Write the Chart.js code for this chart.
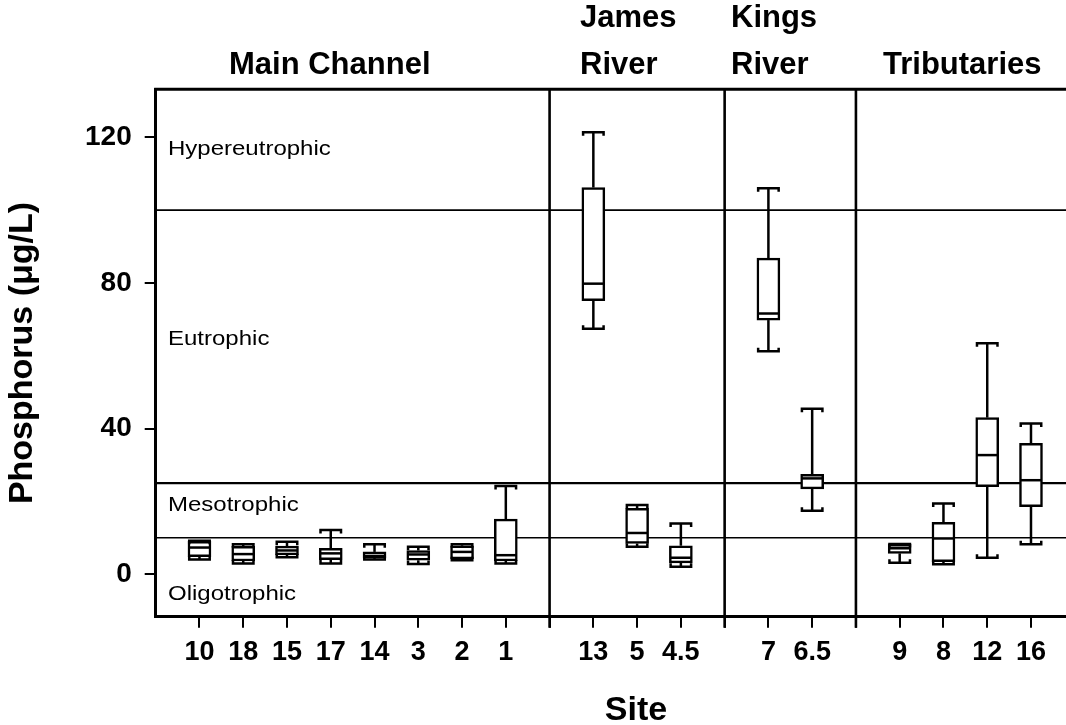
<!DOCTYPE html>
<html>
<head>
<meta charset="utf-8">
<script src="https://cdn.jsdelivr.net/npm/chart.js@4.4.1/dist/chart.umd.min.js"></script>
<style>
  html, body { margin: 0; padding: 0; background: #fff; overflow: hidden; }
  #wrap { width: 1066px; height: 725px; }
</style>
</head>
<body>
<div id="wrap"><canvas id="c" width="1066" height="725"></canvas></div>
<script>
// ---------------- data ----------------
const groupNames = [['Main Channel'], ['James', 'River'], ['Kings', 'River'], ['Tributaries']];
const groupSizes = [8, 3, 2, 4];
const siteLabels = ['10', '18', '15', '17', '14', '3', '2', '1', '13', '5', '4.5', '7', '6.5', '9', '8', '12', '16'];
const minVals    = [4.0, 2.9, 4.6, 2.9, 4.0, 2.8, 3.8, 2.9, 67.4, 7.5, 2.0, 61.2, 17.4, 3.1, 2.7, 4.5, 8.2];
const q1Vals     = [4.8, 3.6, 5.3, 4.0, 4.4, 3.8, 4.2, 3.6, 75.1, 8.4, 3.1, 69.8, 23.4, 5.7, 3.4, 24.0, 18.5];
const medianVals = [7.3, 5.5, 6.5, 5.7, 5.0, 5.4, 6.1, 5.2, 79.8, 11.3, 4.5, 71.6, 26.3, 7.1, 9.8, 32.7, 25.8];
const q3Vals     = [9.0, 7.6, 7.7, 7.1, 6.1, 6.5, 7.8, 15.1, 106.2, 18.1, 7.8, 86.8, 27.4, 8.2, 14.2, 43.0, 35.9];
const maxVals    = [9.2, 8.2, 8.9, 12.1, 8.2, 7.5, 8.2, 24.2, 121.4, 19.0, 13.9, 106.0, 45.4, 8.3, 19.4, 63.4, 41.4];
const yTicks = [0, 40, 80, 120];
const trophicBounds = [10, 25, 100];
const trophicNames = ['Oligotrophic', 'Mesotrophic', 'Eutrophic', 'Hypereutrophic'];

// ---------------- slot layout (sites + divider slots) ----------------
const siteSlots = [];
const dividerSlots = [];
const slotLabel = {};
(function () {
  let s = 0, k = 0;
  groupSizes.forEach((n, g) => {
    if (g > 0) { dividerSlots.push(s); s++; }
    for (let i = 0; i < n; i++) { siteSlots.push(s); slotLabel[s] = siteLabels[k]; k++; s++; }
  });
})();
const nSlots = siteSlots[siteSlots.length - 1] + 1;

const boxData = siteSlots.map((s, i) => ({ x: s, y: [q1Vals[i], q3Vals[i]] }));

const FONT = '"Liberation Sans", Arial, Helvetica, sans-serif';
const BOX_W = 23;
const LW = 2.5;

function seg(ctx, x1, y1, x2, y2) { ctx.beginPath(); ctx.moveTo(x1, y1); ctx.lineTo(x2, y2); ctx.stroke(); }

const decor = {
  id: 'decor',
  beforeDatasetsDraw(chart) {
    const { ctx, chartArea: a, scales: { x, y } } = chart;
    ctx.save();
    ctx.strokeStyle = '#000';
    const widths = [1.6, 2.4, 1.8];
    trophicBounds.forEach((v, i) => {
      ctx.lineWidth = widths[i];
      const py = y.getPixelForValue(v);
      seg(ctx, a.left, py, a.right, py);
    });
    ctx.lineWidth = 2.6;
    dividerSlots.forEach(s => {
      const px = x.getPixelForValue(s);
      seg(ctx, px, a.top, px, a.bottom + 11);
    });
    ctx.lineWidth = 3;
    seg(ctx, a.left - 1.5, a.top, a.right, a.top);
    ctx.restore();
  },
  afterDatasetsDraw(chart) {
    const { ctx, scales: { x, y } } = chart;
    ctx.save();
    ctx.strokeStyle = '#000';
    ctx.lineWidth = LW;
    ctx.lineCap = 'butt';
    ctx.lineJoin = 'miter';
    const hw = BOX_W / 2 - LW / 2;
    const hook = 3.5;
    siteSlots.forEach((s, i) => {
      const cx = x.getPixelForValue(s);
      const pMax = y.getPixelForValue(maxVals[i]);
      const pQ3 = y.getPixelForValue(q3Vals[i]);
      const pMed = y.getPixelForValue(medianVals[i]);
      const pQ1 = y.getPixelForValue(q1Vals[i]);
      const pMin = y.getPixelForValue(minVals[i]);
      // whiskers
      if (pQ3 - pMax > 0.5) seg(ctx, cx, pQ3, cx, pMax);
      if (pMin - pQ1 > 0.5) seg(ctx, cx, pQ1, cx, pMin);
      // caps with hooks towards the box
      ctx.beginPath();
      ctx.moveTo(cx - hw, pMax + hook); ctx.lineTo(cx - hw, pMax); ctx.lineTo(cx + hw, pMax); ctx.lineTo(cx + hw, pMax + hook);
      ctx.stroke();
      ctx.beginPath();
      ctx.moveTo(cx - hw, pMin - hook); ctx.lineTo(cx - hw, pMin); ctx.lineTo(cx + hw, pMin); ctx.lineTo(cx + hw, pMin - hook);
      ctx.stroke();
      // median
      seg(ctx, cx - BOX_W / 2 + 1, pMed, cx + BOX_W / 2 - 1, pMed);
    });
    ctx.restore();
  },
  afterDraw(chart) {
    const { ctx, scales: { y } } = chart;
    ctx.save();
    ctx.fillStyle = '#000';
    // trophic state labels (slightly wide sans)
    ctx.font = '20px ' + FONT;
    ctx.textAlign = 'left';
    ctx.textBaseline = 'alphabetic';
    const labelVals = [-7.1, 17.3, 62.9, 115.1];
    trophicNames.forEach((t, i) => {
      ctx.save();
      ctx.translate(168, y.getPixelForValue(labelVals[i]));
      ctx.scale(1.2, 1);
      ctx.fillText(t, 0, 0);
      ctx.restore();
    });
    // group titles
    ctx.font = 'bold 31px ' + FONT;
    const gx = [229, 580, 731, 883];
    groupNames.forEach((lines, g) => {
      const base = 73.5;
      lines.forEach((t, j) => {
        ctx.fillText(t, gx[g], base - (lines.length - 1 - j) * 47);
      });
    });
    // x axis title
    ctx.font = 'bold 34px ' + FONT;
    ctx.textAlign = 'center';
    ctx.fillText('Site', 636, 720);
    ctx.restore();
  }
};

new Chart(document.getElementById('c'), {
  type: 'bar',
  data: {
    datasets: [{
      data: boxData,
      backgroundColor: '#ffffff',
      borderColor: '#000000',
      borderWidth: LW,
      borderSkipped: false,
      barThickness: BOX_W
    }]
  },
  options: {
    responsive: false,
    animation: false,
    events: [],
    layout: { padding: { top: 89.3, right: 0, bottom: 0, left: 0 } },
    plugins: { legend: { display: false }, tooltip: { enabled: false }, title: { display: false } },
    scales: {
      x: {
        type: 'linear',
        min: -1,
        max: nSlots + 0.8 - 1,
        offset: false,
        grid: { offset: false, drawOnChartArea: false, drawTicks: true, tickLength: 11, color: '#000', lineWidth: 2 },
        border: { display: true, color: '#000', width: 3 },
        ticks: {
          autoSkip: false, maxRotation: 0, minRotation: 0, padding: 9, color: '#000',
          font: { family: FONT, size: 27, weight: 'bold' },
          callback: v => (slotLabel[v] !== undefined ? slotLabel[v] : '')
        },
        afterBuildTicks: sc => { sc.ticks = Array.from({ length: nSlots }, (_, i) => ({ value: i })); },
        afterFit: sc => { sc.height = 108.3; }
      },
      y: {
        type: 'linear',
        min: -11.7,
        max: 133.2,
        grid: { drawOnChartArea: false, drawTicks: true, tickLength: 11, color: '#000', lineWidth: 2 },
        border: { display: true, color: '#000', width: 3 },
        ticks: { padding: 13, color: '#000', font: { family: FONT, size: 28, weight: 'bold' } },
        afterBuildTicks: sc => { sc.ticks = yTicks.map(v => ({ value: v })); },
        afterFit: sc => { sc.width = 155.7; },
        title: {
          display: true, text: 'Phosphorus (μg/L)', color: '#000',
          font: { family: FONT, size: 34, weight: 'bold' },
          padding: { top: 2, bottom: 0 }
        }
      }
    }
  },
  plugins: [decor]
});
</script>
</body>
</html>
